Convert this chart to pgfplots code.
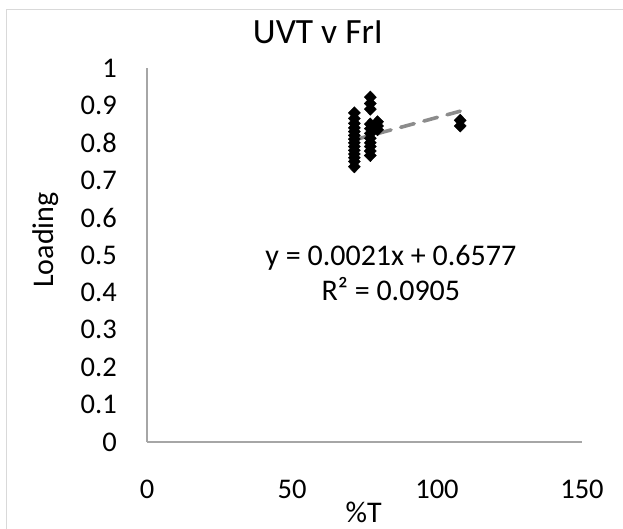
\documentclass[border=0pt]{standalone}
\usepackage{pgfplots}
\pgfplotsset{compat=1.18}
\usepackage{pgfplotstable}
\usepackage{fontspec}
\setmainfont{Carlito}
\definecolor{axgray}{HTML}{A6A6A6}
\definecolor{trendgray}{HTML}{8C8C8C}
\definecolor{framegray}{HTML}{D9D9D9}
\pgfplotstableread{
x y
71.5 0.880
71.5 0.865
71.5 0.852
71.5 0.840
71.5 0.830
71.5 0.820
71.5 0.810
71.5 0.800
71.5 0.790
71.5 0.780
71.5 0.770
71.5 0.760
71.5 0.750
71.5 0.736
77.0 0.922
77.0 0.905
77.0 0.890
77.0 0.850
77.0 0.838
77.0 0.825
77.0 0.812
77.0 0.800
77.0 0.790
77.0 0.778
77.0 0.766
79.5 0.856
79.5 0.845
79.5 0.835
108.0 0.860
108.0 0.845
}\datatable
\begin{document}
\begin{tikzpicture}
\path[use as bounding box] (-147pt,-87pt) rectangle (476pt,442pt);
\draw[framegray, line width=1pt] (-140.7pt,-90pt) -- (-140.7pt,432.5pt) -- (480pt,432.5pt);
\begin{axis}[
  at={(0pt,0pt)}, anchor=south west,
  scale only axis, width=435pt, height=374pt,
  xmin=0, xmax=150, ymin=0, ymax=1,
  axis lines*=left,
  axis line style={axgray, line width=1.2pt},
  xtick={0,50,100,150},
  ytick={0,0.1,0.2,0.3,0.4,0.5,0.6,0.7,0.8,0.9,1},
  yticklabels={0,0.1,0.2,0.3,0.4,0.5,0.6,0.7,0.8,0.9,1},
  major tick length=0pt,
  /pgf/number format/assume math mode=true,
  tick label style={font=\fontsize{28.5}{32}\selectfont, inner sep=0pt},
  xticklabel style={anchor=base, yshift=-57pt},
  yticklabel style={anchor=east, xshift=-30pt},
  title={UVT v FrI},
  title style={at={(axis description cs:0.393,1.05)}, anchor=base, font=\fontsize{35.5}{40}\selectfont, inner sep=0pt},
  xlabel={\%T},
  xlabel style={at={(axis description cs:0.498,0)}, anchor=base, yshift=-81pt, font=\fontsize{30}{34}\selectfont, inner sep=0pt},
  ylabel={Loading},
  ylabel style={at={(axis description cs:-0.215,0.54)}, anchor=base, rotate=0, font=\fontsize{30}{34}\selectfont, inner sep=0pt},
  clip=false,
]
\addplot[only marks, mark=diamond*, mark size=6.2pt, mark options={black, fill=black, xscale=1.3}] table[x=x, y=y] {\datatable};
\addplot[trendgray, line width=3.6pt, dash pattern=on 14pt off 10pt, line cap=round] coordinates {(71.5,0.80785) (108,0.8845)};
\node[anchor=base, font=\fontsize{30}{34}\selectfont, inner sep=0pt] at (axis cs:84.1,0.473) {y = 0.0021x + 0.6577};
\node[anchor=base, font=\fontsize{30}{34}\selectfont, inner sep=0pt] at (axis cs:84.1,0.378) {R² = 0.0905};
\end{axis}
\end{tikzpicture}
\end{document}
